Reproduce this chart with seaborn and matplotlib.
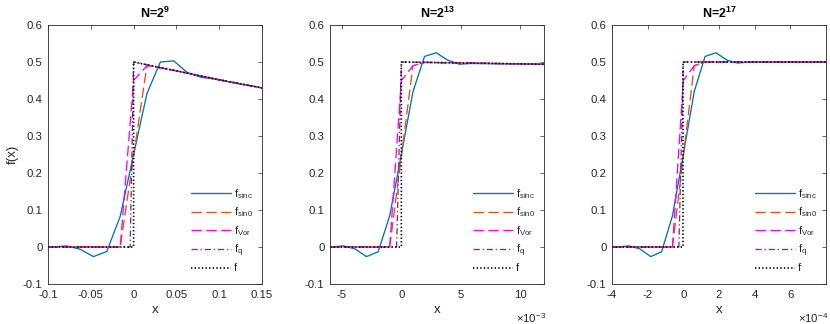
import numpy as np
import pandas as pd
import matplotlib
matplotlib.use("Agg")
import matplotlib.pyplot as plt
import seaborn as sns

sns.set_theme(style="white")
plt.rcParams['font.family'] = ['Liberation Sans', 'DejaVu Sans']
plt.rcParams['mathtext.fontset'] = 'custom'
plt.rcParams['mathtext.rm'] = 'Liberation Sans'
plt.rcParams['mathtext.it'] = 'Liberation Sans:italic'
plt.rcParams['mathtext.bf'] = 'Liberation Sans:bold'
plt.rcParams['axes.unicode_minus'] = False
plt.rcParams['lines.scale_dashes'] = False

# ---------------- data ----------------
titles = [r'N=2$^{\mathbf{9}}$', r'N=2$^{\mathbf{13}}$', r'N=2$^{\mathbf{17}}$']
series_names = ['f$_{\\rm sinc}$', 'f$_{\\rm sin0}$', 'f$_{\\rm Vor}$', 'f$_{\\rm q}$', 'f']

# Panel 1 (N=2^9)
p1_sinc_x = [-0.1, -0.09375, -0.078125, -0.0625, -0.046875, -0.03125, -0.015625, 0.0,
             0.015625, 0.03125, 0.046875, 0.0625, 0.078125, 0.09375, 0.109375, 0.125, 0.140625, 0.15]
p1_sinc_y = [0.0, 0.0, 0.003, -0.006, -0.026, -0.012, 0.083, 0.25,
             0.415, 0.5, 0.503, 0.472, 0.459, 0.454, 0.447, 0.44, 0.434, 0.43]
p1_sin0_x = [-0.1, -0.015625, 0.015625, 0.05, 0.1, 0.15]
p1_sin0_y = [0.0, 0.0, 0.492, 0.476, 0.452, 0.43]
p1_vor_x = [-0.1, -0.015625, 0.0, 0.015625, 0.05, 0.1, 0.15]
p1_vor_y = [0.0, 0.0, 0.45, 0.49, 0.476, 0.452, 0.43]
p1_q_x = [-0.1, -0.004, 0.0, 0.05, 0.1, 0.15]
p1_q_y = [0.0, 0.0, 0.5, 0.476, 0.452, 0.43]
p1_f_x = [-0.1, 0.0, 0.0, 0.05, 0.1, 0.15]
p1_f_y = [0.0, 0.0, 0.5, 0.476, 0.452, 0.43]

# Panel 2 (N=2^13)
p2_sinc_x = [-0.006, -0.00586, -0.00488, -0.0039, -0.00293, -0.00195, -0.00098, 0.0,
             0.00098, 0.00195, 0.00293, 0.0039, 0.00488, 0.00586, 0.012]
p2_sinc_y = [0.0, 0.0, 0.003, -0.005, -0.026, -0.013, 0.084, 0.25,
             0.42, 0.515, 0.525, 0.505, 0.494, 0.496, 0.494]
p2_sin0_x = [-0.006, -0.00098, 0.00098, 0.00195, 0.012]
p2_sin0_y = [0.0, 0.0, 0.49, 0.499, 0.494]
p2_vor_x = [-0.006, -0.00098, 0.0, 0.00098, 0.00195, 0.012]
p2_vor_y = [0.0, 0.0, 0.45, 0.49, 0.499, 0.494]
p2_q_x = [-0.006, -0.0004, 0.0, 0.012]
p2_q_y = [0.0, 0.0, 0.5, 0.494]
p2_f_x = [-0.006, 0.0, 0.0, 0.012]
p2_f_y = [0.0, 0.0, 0.5, 0.494]

# Panel 3 (N=2^17)
p3_sinc_x = [-0.0004, -0.000366, -0.000305, -0.000244, -0.000183, -0.000122, -0.000061, 0.0,
             0.000061, 0.000122, 0.000183, 0.000244, 0.000305, 0.000366, 0.0008]
p3_sinc_y = [0.0, 0.0, 0.003, -0.005, -0.026, -0.013, 0.084, 0.25,
             0.42, 0.515, 0.525, 0.505, 0.497, 0.5, 0.5]
p3_sin0_x = [-0.0004, -0.000061, 0.000061, 0.000122, 0.0008]
p3_sin0_y = [0.0, 0.0, 0.49, 0.5, 0.5]
p3_vor_x = [-0.0004, -0.000061, 0.0, 0.000061, 0.000122, 0.0008]
p3_vor_y = [0.0, 0.0, 0.45, 0.49, 0.5, 0.5]
p3_q_x = [-0.0004, -0.000025, 0.0, 0.0008]
p3_q_y = [0.0, 0.0, 0.5, 0.5]
p3_f_x = [-0.0004, 0.0, 0.0, 0.0008]
p3_f_y = [0.0, 0.0, 0.5, 0.5]

x_limits = [(-0.1, 0.15), (-0.006, 0.012), (-0.0004, 0.0008)]
x_ticks = [[-0.1, -0.05, 0.0, 0.05, 0.1, 0.15],
           [-0.005, 0.0, 0.005, 0.01],
           [-0.0004, -0.0002, 0.0, 0.0002, 0.0004, 0.0006]]
x_tick_labels = [['-0.1', '-0.05', '0', '0.05', '0.1', '0.15'],
                 ['-5', '0', '5', '10'],
                 ['-4', '-2', '0', '2', '4', '6']]
x_offsets = [None, r'$\times$10$^{-3}$', r'$\times$10$^{-4}$']
y_ticks = [-0.1, 0.0, 0.1, 0.2, 0.3, 0.4, 0.5, 0.6]
y_tick_labels = ['-0.1', '0', '0.1', '0.2', '0.3', '0.4', '0.5', '0.6']

panels = [
    [(p1_sinc_x, p1_sinc_y), (p1_sin0_x, p1_sin0_y), (p1_vor_x, p1_vor_y), (p1_q_x, p1_q_y), (p1_f_x, p1_f_y)],
    [(p2_sinc_x, p2_sinc_y), (p2_sin0_x, p2_sin0_y), (p2_vor_x, p2_vor_y), (p2_q_x, p2_q_y), (p2_f_x, p2_f_y)],
    [(p3_sinc_x, p3_sinc_y), (p3_sin0_x, p3_sin0_y), (p3_vor_x, p3_vor_y), (p3_q_x, p3_q_y), (p3_f_x, p3_f_y)],
]

# ---------------- styles ----------------
colors = ['#0072BD', '#D95319', '#FF00FF', '#7E2F8E', '#000000']
dash_styles = ['-', (0, (7.5, 3.2)), (0, (7.5, 3.2)), (0, (4.5, 2.0, 1.0, 2.0)), (0, (1.0, 1.6))]
line_widths = [0.95, 0.95, 0.95, 0.95, 1.2]
axis_color = '#262626'

W, H = 830, 324
fig = plt.figure(figsize=(W / 100, H / 100), dpi=100)
lefts = [48, 330, 612]
ax_w = 214
ax_bottom, ax_top = 284, 25

for i, (series, left) in enumerate(zip(panels, lefts)):
    ax = fig.add_axes([left / W, 1 - ax_bottom / H, ax_w / W, (ax_bottom - ax_top) / H])
    for k, (xs, ys) in enumerate(series):
        df = pd.DataFrame({'x': xs, 'y': ys})
        sns.lineplot(data=df, x='x', y='y', ax=ax, estimator=None, sort=False,
                     color=colors[k], linewidth=line_widths[k], linestyle=dash_styles[k],
                     label=series_names[k])
    ax.set_xlim(*x_limits[i])
    ax.set_ylim(-0.1, 0.6)
    ax.set_xticks(x_ticks[i])
    ax.set_xticklabels(x_tick_labels[i])
    ax.set_yticks(y_ticks)
    ax.set_yticklabels(y_tick_labels)
    ax.tick_params(direction='in', top=True, right=True, length=3, width=0.5,
                   colors=axis_color, labelsize=8.2, pad=4)
    for sp in ax.spines.values():
        sp.set_visible(True)
        sp.set_color(axis_color)
        sp.set_linewidth(0.6)
    ax.set_title(titles[i], fontsize=9, fontweight='bold', color='black', pad=5)
    ax.set_xlabel('x', fontsize=9.5, color=axis_color, labelpad=3)
    if i == 0:
        ax.set_ylabel('f(x)', fontsize=9.5, color=axis_color, labelpad=3)
    else:
        ax.set_ylabel('')
    if x_offsets[i]:
        ax.text(1.01, -0.105, x_offsets[i], transform=ax.transAxes, ha='right', va='top',
                fontsize=8.2, color=axis_color)
    leg = ax.legend(loc='lower right', bbox_to_anchor=(0.99, 0.015), frameon=False,
                    fontsize=8, handlelength=3.6, handletextpad=0.3, labelspacing=0.42,
                    borderaxespad=0.2)

fig.savefig('out.png', dpi=100, facecolor='white')
